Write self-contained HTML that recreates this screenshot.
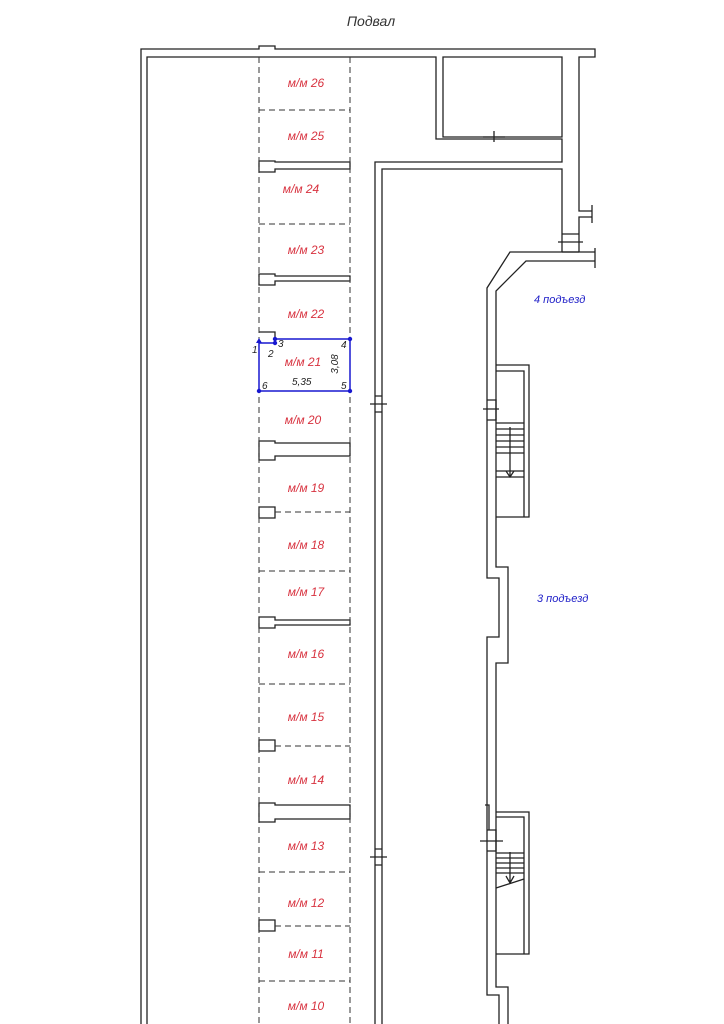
<!DOCTYPE html>
<html><head><meta charset="utf-8"><style>
html,body{margin:0;padding:0;background:#fff;}
svg{display:block}
text{font-family:"Liberation Sans",sans-serif;font-style:italic}
.r{fill:#d8323f;font-size:12px;text-anchor:middle}
.b{fill:#2020c8;font-size:11px}
</style></head><body>
<svg width="724" height="1024" viewBox="0 0 724 1024" xmlns="http://www.w3.org/2000/svg">
<g fill="none" stroke="#222" stroke-width="1.3">
<!-- outer walls -->
<path d="M141 1024 V49 H259 V46 H275 V49 H595 V57 H579 V211 H592 M592 217 H579 V252"/>
<path d="M592 205 V223"/>
<path d="M147 1024 V57 H436 V139 H562 V162 H375 V1024"/>
<path d="M443 57 H562 V137 H443 Z"/>
<path d="M382 1024 V169 H562 V252"/>
<path d="M483 137 H505 M494 131 V142"/>
<path d="M562 234 H579 M562 252 H579 M558 242 H583"/>
<path d="M595 248 V268"/>
<!-- right building walls -->
<path d="M595 252 H510 L487 288 V578 H499 V637 H487 V995 H499 V1024"/>
<path d="M595 261 H526 L496 291 V567 H508 V663 H496 V987 H508 V1024"/>
<!-- stair 1 -->
<path d="M496 365 H529 V517 H496 M496 371 H524 V517"/>
<path d="M496 423 H524 M496 429 H524 M496 435 H524 M496 441 H524 M496 447 H524 M496 453 H524 M496 471 H524 M496 477 H524 M510 427 V477 M506 471 L510 477 L514 471"/>
<path d="M487 400 H496 V420 H487 M483 409 H499"/>
<!-- stair 2 -->
<path d="M496 812 H529 V954 H496 M496 817 H524 V954"/>
<path d="M496 853 H524 M496 858 H524 M496 863 H524 M496 868 H524 M496 873 H524 M496 888 L524 879 M510 852 V883 M506 876 L510 883 L514 876"/>
<path d="M485 805 H489 V830 H496 M487 830 H496 V851 H487 M480 841 H503"/>
<!-- corridor ticks -->
<path d="M375 396 H382 M375 412 H382 M370 404 H387 M375 849 H382 M375 865 H382 M370 857 H387"/>
<!-- parking walls -->
<path d="M259 161 H275 V162 H350 V169 H275 V172 H259 Z M350 162 V169"/>
<path d="M259 274 H275 V276 H350 V281 H275 V285 H259 Z"/>
<path d="M259 332 H275 V339"/>
<path d="M259 441 H275 V443 H350 V456 H275 V460 H259 Z M350 443 V456"/>
<path d="M259 507 H275 V518 H259 Z"/>
<path d="M259 617 H275 V620 H350 V625 H275 V628 H259 Z"/>
<path d="M259 740 H275 V751 H259 Z"/>
<path d="M259 803 H275 V805 H350 V819 H275 V822 H259 Z M350 805 V819"/>
<path d="M259 920 H275 V931 H259 Z"/>
</g>
<g fill="none" stroke="#333" stroke-width="1" stroke-dasharray="6,4">
<path d="M259 57 V1024 M350 57 V1024"/>
<path d="M259 110 H350 M259 224 H350 M275 512 H350 M259 571 H350 M259 684 H350 M275 746 H350 M259 872 H350 M275 926 H350 M259 981 H350"/>
</g>
<!-- blue selection -->
<g stroke="#1818d0" stroke-width="1.5" fill="none">
<path d="M259 343 H275 V339 H350 V391 H259 Z"/>
</g>
<g fill="#1818d0">
<circle cx="275" cy="339" r="2.2"/><circle cx="275" cy="343" r="2.2"/><circle cx="350" cy="339" r="2.2"/><circle cx="350" cy="391" r="2.2"/><circle cx="259" cy="391" r="2.2"/><path d="M256 343 L259 338 L262 343 Z"/>
</g>
<g fill="#222" font-size="10">
<text x="252" y="353">1</text><text x="268" y="357">2</text><text x="278" y="347">3</text><text x="341" y="348">4</text><text x="341" y="389">5</text><text x="262" y="389">6</text>
<text x="292" y="385">5,35</text>
<text transform="translate(338 364) rotate(-90)" text-anchor="middle">3,08</text>
</g>
<text x="371" y="26" font-size="14" fill="#333" text-anchor="middle">Подвал</text>
<g class="r">
<text class="r" x="306" y="87">м/м 26</text>
<text class="r" x="306" y="140">м/м 25</text>
<text class="r" x="301" y="193">м/м 24</text>
<text class="r" x="306" y="254">м/м 23</text>
<text class="r" x="306" y="318">м/м 22</text>
<text class="r" x="303" y="366">м/м 21</text>
<text class="r" x="303" y="424">м/м 20</text>
<text class="r" x="306" y="492">м/м 19</text>
<text class="r" x="306" y="549">м/м 18</text>
<text class="r" x="306" y="596">м/м 17</text>
<text class="r" x="306" y="658">м/м 16</text>
<text class="r" x="306" y="721">м/м 15</text>
<text class="r" x="306" y="784">м/м 14</text>
<text class="r" x="306" y="850">м/м 13</text>
<text class="r" x="306" y="907">м/м 12</text>
<text class="r" x="306" y="958">м/м 11</text>
<text class="r" x="306" y="1010">м/м 10</text>
</g>
<text class="b" x="534" y="303">4 подъезд</text>
<text class="b" x="537" y="602">3 подъезд</text>
</svg>
</body></html>
